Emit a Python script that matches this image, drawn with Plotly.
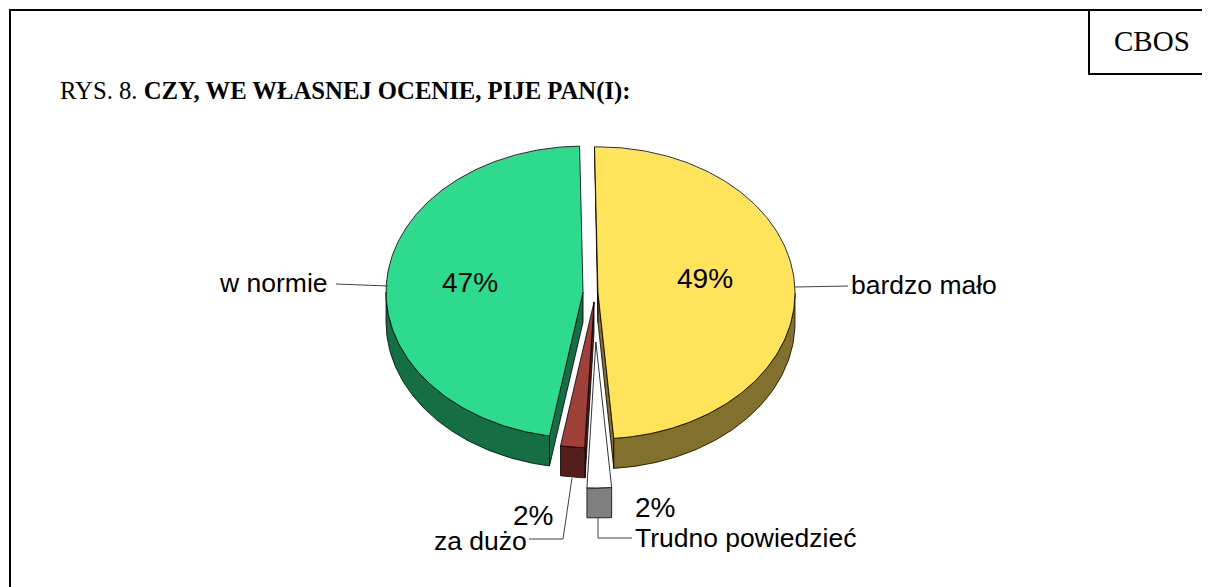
import numpy as np
import plotly.graph_objects as go

# ---- data ----
labels = ["bardzo mało", "Trudno powiedzieć", "za dużo", "w normie"]
values = [49, 2, 2, 47]
title_prefix = "RYS. 8. "
title_main = "CZY, WE WŁASNEJ OCENIE, PIJE PAN(I):"
source = "CBOS"

# ---- style ----
top_colors = ["#FFE35A", "#FFFFFF", "#A0403A", "#2EDB8E"]
side_colors = ["#82712E", "#808080", "#531E1B", "#166E45"]
pull = [3, 49, 9, 12]          # explode distance (px)
CX, CY = 595, 293              # pie centre (px)
RX, RY, DEPTH = 197, 146, 30   # ellipse radii and thickness
START = 91.0                   # start angle (deg), clockwise

PAGE_W, PAGE_H = 1210, 587
OFF = 8                        # default body margin of the html page
W, H = PAGE_W - OFF, PAGE_H - OFF
fig = go.Figure()

total = sum(values)
angles = []
a = START
for v in values:
    sweep = 360.0 * v / total
    angles.append((a, a - sweep))
    a -= sweep


def pt(cx, cy, t, dy=0.0):
    r = np.radians(t)
    return cx + RX * np.cos(r), cy - RY * np.sin(r) + dy


def poly(xs, ys, color):
    fig.add_trace(go.Scatter(
        x=list(xs) + [xs[0]], y=list(ys) + [ys[0]], mode="lines",
        fill="toself", fillcolor=color,
        line=dict(color="black", width=0.8), hoverinfo="skip", showlegend=False))


draw_order = [3, 0, 2, 1]
for i in draw_order:
    a_hi, a_lo = angles[i]
    mid = np.radians((a_hi + a_lo) / 2)
    cx = CX + pull[i] * np.cos(mid)
    cy = CY - pull[i] * np.sin(mid)
    # radial walls
    for t, vis in ((a_hi, np.cos(np.radians(a_hi)) < 0), (a_lo, np.cos(np.radians(a_lo)) > 0)):
        if vis:
            ex, ey = pt(cx, cy, t)
            poly([cx, ex, ex, cx], [cy, ey, ey + DEPTH, cy + DEPTH], side_colors[i])
    # outer wall (front half)
    for k in range(-1, 1):
        lo = max(a_lo, -180 + 360 * k)
        hi = min(a_hi, 0 + 360 * k)
        if hi > lo:
            ts = np.linspace(hi, lo, 80)
            xs, ys = pt(cx, cy, ts)
            poly(list(xs) + list(xs[::-1]), list(ys) + list((ys + DEPTH)[::-1]), side_colors[i])
    # top face
    ts = np.linspace(a_hi, a_lo, 200)
    xs, ys = pt(cx, cy, ts)
    poly([cx] + list(xs), [cy] + list(ys), top_colors[i])

# ---- leader lines ----
lead = "#404040"
leaders = [
    ([795, 848], [287, 286]),
    ([598, 598, 632], [518, 538, 538]),
    ([572, 563, 529], [478, 539, 539]),
    ([388, 336], [286, 284]),
]
for xs, ys in leaders:
    fig.add_trace(go.Scatter(x=xs, y=ys, mode="lines", line=dict(color=lead, width=1),
                             hoverinfo="skip", showlegend=False))

sans = "Liberation Sans, Arial, sans-serif"
serif = "Liberation Serif, Times New Roman, serif"

# category labels
lab_pos = [(849, 285, "left"), (633, 538, "left"), (529, 541, "right"), (330, 283, "right")]
for lab, (x, y, anc) in zip(labels, lab_pos):
    fig.add_annotation(x=x, y=y, xref="x", yref="y", text=lab, showarrow=False,
                       xanchor=anc, yanchor="middle", font=dict(family=sans, size=26.5, color="black"))
# value labels
val_pos = [(705, 278), (655, 507), (533, 515), (470, 282)]
for v, (x, y) in zip(values, val_pos):
    fig.add_annotation(x=x, y=y, xref="x", yref="y", text=f"{v}%", showarrow=False,
                       xanchor="center", yanchor="middle", font=dict(family=sans, size=28, color="black"))

# title
fig.add_annotation(x=58, y=91, xref="x", yref="y", text=f"{title_prefix}<b>{title_main}</b>",
                   showarrow=False, xanchor="left", yanchor="middle",
                   font=dict(family=serif, size=24.7, color="black"))
fig.add_annotation(x=1152, y=41, xref="x", yref="y", text=source, showarrow=False,
                   xanchor="center", yanchor="middle", font=dict(family=serif, size=29, color="black"))

# frame and CBOS box
fig.add_shape(type="rect", xref="x", yref="y", x0=10, y0=10, x1=1215, y1=595,
              line=dict(color="black", width=2), layer="below")
fig.add_shape(type="rect", xref="x", yref="y", x0=1089, y0=10, x1=1215, y1=74,
              line=dict(color="black", width=2))

fig.update_layout(
    width=W, height=H, margin=dict(l=0, r=0, t=0, b=0),
    paper_bgcolor="white", plot_bgcolor="white", showlegend=False,
    xaxis=dict(range=[OFF, PAGE_W], visible=False, fixedrange=True),
    yaxis=dict(range=[PAGE_H, OFF], visible=False, fixedrange=True),
)
fig.write_html("out.html")
